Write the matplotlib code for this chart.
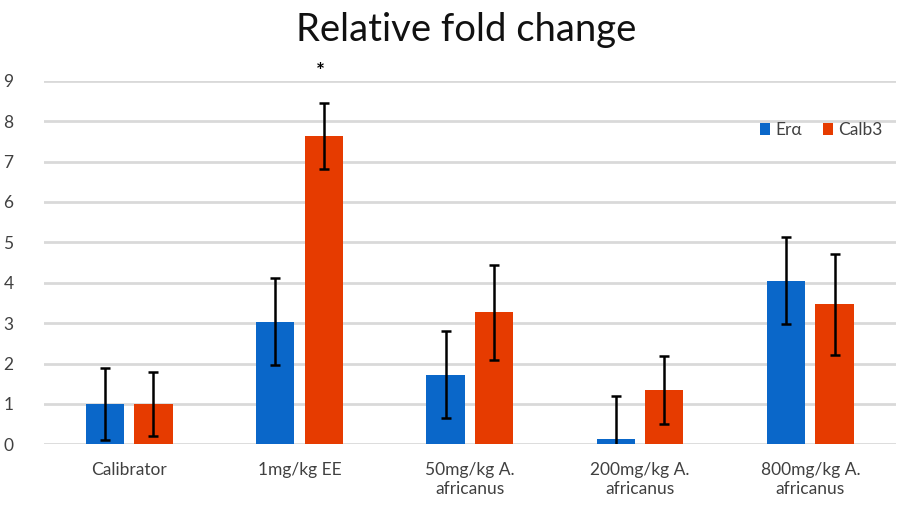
import numpy as np
import matplotlib
matplotlib.use("Agg")
import matplotlib.pyplot as plt

# Data
categories = ["Calibrator", "1mg/kg EE", "50mg/kg A.\nafricanus",
              "200mg/kg A.\nafricanus", "800mg/kg A.\nafricanus"]
era_values = [1.0, 3.04, 1.73, 0.13, 4.05]
era_err = [0.9, 1.08, 1.07, 1.07, 1.08]
calb3_values = [1.0, 7.64, 3.27, 1.35, 3.47]
calb3_err = [0.8, 0.82, 1.18, 0.85, 1.25]
yticks = list(range(0, 10))

plt.rcParams['font.family'] = ['Lato', 'DejaVu Sans']

fig = plt.figure(figsize=(9, 5.05), dpi=100)
ax = fig.add_axes([0.049, 0.12, 0.946, 0.72])

x = np.arange(len(categories))
width = 0.225
offset = 0.142
blue = '#0A67C9'
orange = '#E63B00'

ax.bar(x - offset, era_values, width, color=blue, label='Erα', zorder=2)
ax.bar(x + offset, calb3_values, width, color=orange, label='Calb3', zorder=2)
ax.errorbar(x - offset, era_values, yerr=era_err, fmt='none', ecolor='black',
            elinewidth=1.8, capsize=3.5, capthick=1.8, zorder=3)
ax.errorbar(x + offset, calb3_values, yerr=calb3_err, fmt='none', ecolor='black',
            elinewidth=1.8, capsize=3.5, capthick=1.8, zorder=3)

# significance marker above the 1mg/kg EE Calb3 bar
ax.text(1 + offset - 0.02, 9.22, '*', ha='center', va='center', fontsize=15,
        fontweight='bold', clip_on=False)

ax.set_xlim(-0.5, 4.5)
ax.set_ylim(0, 9)
ax.set_yticks(yticks)
ax.set_xticks(x)
ax.set_xticklabels(categories, fontsize=12.5, color='#404040', linespacing=1.2)
ax.tick_params(axis='y', labelsize=12.5, colors='#404040', length=0, pad=22)
ax.tick_params(axis='x', length=0, pad=13)
ax.grid(axis='y', color='#d9d9d9', linewidth=2, zorder=0)
ax.set_axisbelow(True)
for s in ax.spines.values():
    s.set_visible(False)

fig.text(0.518, 0.94, 'Relative fold change', ha='center', va='center',
         fontsize=27.5, color='#111111')

leg = ax.legend(loc='center', bbox_to_anchor=(0.913, 0.865), ncol=2, frameon=False,
                fontsize=12.5, handlelength=0.6, handleheight=0.7,
                handletextpad=0.3, columnspacing=1.2)
for t in leg.get_texts():
    t.set_color('#404040')

fig.savefig('out.png', dpi=100)
